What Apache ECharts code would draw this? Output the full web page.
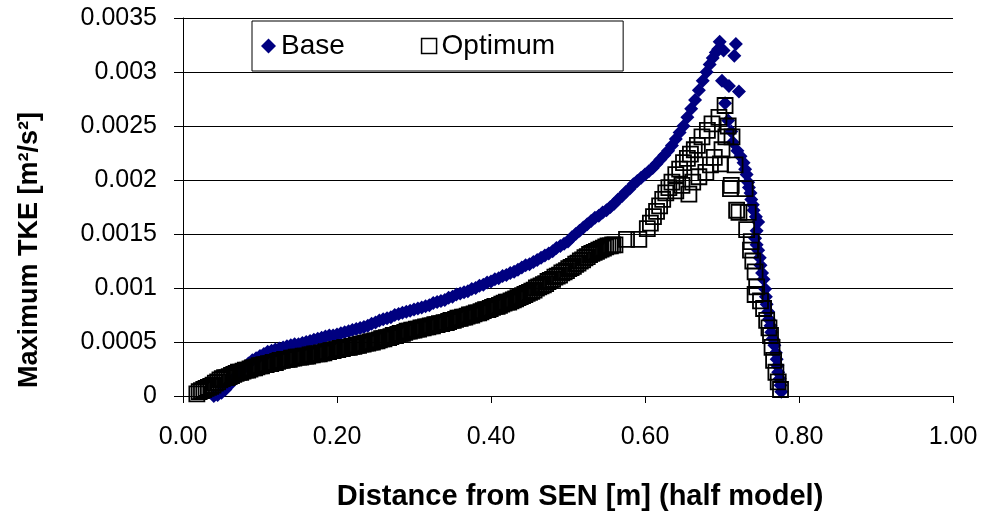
<!DOCTYPE html>
<html>
<head>
<meta charset="utf-8">
<script src="https://cdn.jsdelivr.net/npm/echarts@6/dist/echarts.min.js"></script>
<style>
  html, body { margin: 0; padding: 0; background: #fff; }
  #chart { width: 981px; height: 511px; }
</style>
</head>
<body>
<div id="chart"></div>
<script>
// [distance from SEN (m), max TKE (m2/s2)]
const basePoints = [
  [0.040, 0.00000], [0.045, 0.00001], [0.050, 0.00003], [0.055, 0.00006], [0.060, 0.00010],
  [0.065, 0.00015], [0.070, 0.00019], [0.075, 0.00023], [0.080, 0.00027], [0.085, 0.00030],
  [0.090, 0.00033], [0.095, 0.00035], [0.100, 0.00037], [0.105, 0.00039], [0.110, 0.00041],
  [0.115, 0.00042], [0.120, 0.00043], [0.125, 0.00044], [0.130, 0.00045], [0.135, 0.00046],
  [0.140, 0.00047], [0.145, 0.00048], [0.150, 0.00048], [0.155, 0.00049], [0.160, 0.00050],
  [0.165, 0.00051], [0.170, 0.00052], [0.175, 0.00053], [0.180, 0.00054], [0.185, 0.00055],
  [0.190, 0.00056], [0.195, 0.00056], [0.200, 0.00057], [0.205, 0.00058], [0.210, 0.00059],
  [0.215, 0.00060], [0.220, 0.00061], [0.225, 0.00062], [0.230, 0.00063], [0.235, 0.00064],
  [0.240, 0.00065], [0.245, 0.00067], [0.250, 0.00068], [0.255, 0.00070], [0.260, 0.00071],
  [0.265, 0.00072], [0.270, 0.00073], [0.275, 0.00075], [0.280, 0.00076], [0.285, 0.00077],
  [0.290, 0.00078], [0.295, 0.00079], [0.300, 0.00080], [0.305, 0.00081], [0.310, 0.00082],
  [0.315, 0.00083], [0.320, 0.00084], [0.325, 0.00086], [0.330, 0.00087], [0.335, 0.00088],
  [0.340, 0.00089], [0.345, 0.00091], [0.350, 0.00092], [0.355, 0.00094], [0.360, 0.00095],
  [0.365, 0.00096], [0.370, 0.00097], [0.375, 0.00099], [0.380, 0.00100], [0.385, 0.00102],
  [0.390, 0.00103], [0.395, 0.00105], [0.400, 0.00106], [0.405, 0.00108], [0.410, 0.00109],
  [0.415, 0.00111], [0.420, 0.00112], [0.425, 0.00114], [0.430, 0.00115], [0.435, 0.00117],
  [0.440, 0.00119], [0.445, 0.00121], [0.450, 0.00122], [0.455, 0.00124], [0.460, 0.00126],
  [0.465, 0.00128], [0.470, 0.00130], [0.475, 0.00132], [0.480, 0.00134], [0.485, 0.00137],
  [0.490, 0.00139], [0.495, 0.00141], [0.500, 0.00143], [0.505, 0.00147], [0.510, 0.00150],
  [0.515, 0.00153], [0.520, 0.00156], [0.525, 0.00159], [0.530, 0.00162], [0.535, 0.00165],
  [0.540, 0.00167], [0.545, 0.00170], [0.550, 0.00172], [0.555, 0.00175], [0.560, 0.00178],
  [0.565, 0.00182], [0.570, 0.00185], [0.575, 0.00189], [0.580, 0.00192], [0.585, 0.00196],
  [0.590, 0.00199], [0.595, 0.00202], [0.600, 0.00205], [0.605, 0.00208], [0.610, 0.00211],
  [0.615, 0.00215], [0.620, 0.00219], [0.625, 0.00223], [0.630, 0.00227], [0.635, 0.00232],
  [0.640, 0.00238], [0.645, 0.00244], [0.650, 0.00250], [0.655, 0.00258], [0.660, 0.00266],
  [0.665, 0.00274], [0.670, 0.00283], [0.675, 0.00292], [0.680, 0.00300], [0.684, 0.00307],
  [0.688, 0.00313], [0.692, 0.00318], [0.695, 0.00321], [0.697, 0.00328], [0.702, 0.00320],
  [0.718, 0.00326], [0.716, 0.00315], [0.700, 0.00292], [0.709, 0.00287], [0.722, 0.00282],
  [0.704, 0.00271], [0.708, 0.00255], [0.712, 0.00245], [0.714, 0.00235], [0.720, 0.00227],
  [0.724, 0.00222], [0.728, 0.00216], [0.730, 0.00210], [0.732, 0.00205], [0.734, 0.00198],
  [0.735, 0.00193], [0.737, 0.00188], [0.738, 0.00182], [0.740, 0.00177], [0.741, 0.00172],
  [0.744, 0.00166], [0.747, 0.00161], [0.745, 0.00153], [0.743, 0.00146], [0.745, 0.00140],
  [0.747, 0.00135], [0.749, 0.00128], [0.750, 0.00121], [0.752, 0.00114], [0.754, 0.00108],
  [0.756, 0.00099], [0.757, 0.00092], [0.758, 0.00085], [0.760, 0.00078], [0.761, 0.00071],
  [0.763, 0.00065], [0.764, 0.00059], [0.766, 0.00053], [0.768, 0.00047], [0.770, 0.00040],
  [0.771, 0.00034], [0.772, 0.00028], [0.773, 0.00022], [0.775, 0.00016], [0.776, 0.00010],
  [0.777, 0.00004]
];

const optimumPoints = [
  [0.018, 0.00002], [0.021, 0.00004], [0.024, 0.00005], [0.027, 0.00006], [0.030, 0.00007],
  [0.033, 0.00008], [0.036, 0.00009], [0.039, 0.00010], [0.042, 0.00012], [0.045, 0.00013],
  [0.048, 0.00015], [0.051, 0.00016], [0.054, 0.00017], [0.057, 0.00017], [0.060, 0.00018],
  [0.063, 0.00019], [0.066, 0.00020], [0.069, 0.00021], [0.072, 0.00022], [0.075, 0.00022],
  [0.078, 0.00023], [0.081, 0.00024], [0.084, 0.00024], [0.087, 0.00025], [0.090, 0.00026],
  [0.093, 0.00026], [0.096, 0.00027], [0.099, 0.00028], [0.102, 0.00028], [0.105, 0.00029],
  [0.108, 0.00029], [0.111, 0.00030], [0.114, 0.00030], [0.117, 0.00031], [0.120, 0.00031],
  [0.123, 0.00032], [0.126, 0.00033], [0.129, 0.00033], [0.132, 0.00034], [0.135, 0.00034],
  [0.138, 0.00034], [0.141, 0.00035], [0.144, 0.00035], [0.147, 0.00036], [0.150, 0.00036],
  [0.153, 0.00036], [0.156, 0.00037], [0.159, 0.00037], [0.162, 0.00037], [0.165, 0.00038],
  [0.168, 0.00038], [0.171, 0.00039], [0.174, 0.00039], [0.177, 0.00039], [0.180, 0.00040],
  [0.183, 0.00040], [0.186, 0.00041], [0.189, 0.00041], [0.192, 0.00042], [0.195, 0.00042],
  [0.198, 0.00043], [0.201, 0.00043], [0.204, 0.00044], [0.207, 0.00044], [0.210, 0.00045],
  [0.213, 0.00045], [0.216, 0.00045], [0.219, 0.00046], [0.222, 0.00046], [0.225, 0.00047],
  [0.228, 0.00047], [0.231, 0.00048], [0.234, 0.00048], [0.237, 0.00049], [0.240, 0.00049],
  [0.243, 0.00050], [0.246, 0.00050], [0.249, 0.00051], [0.252, 0.00051], [0.255, 0.00052],
  [0.258, 0.00053], [0.261, 0.00053], [0.264, 0.00054], [0.267, 0.00054], [0.270, 0.00055],
  [0.273, 0.00056], [0.276, 0.00056], [0.279, 0.00057], [0.282, 0.00058], [0.285, 0.00058],
  [0.288, 0.00059], [0.291, 0.00060], [0.294, 0.00060], [0.297, 0.00061], [0.300, 0.00061],
  [0.303, 0.00062], [0.306, 0.00062], [0.309, 0.00063], [0.312, 0.00063], [0.315, 0.00064],
  [0.318, 0.00064], [0.321, 0.00065], [0.324, 0.00065], [0.327, 0.00066], [0.330, 0.00066],
  [0.333, 0.00067], [0.336, 0.00067], [0.339, 0.00068], [0.342, 0.00068], [0.345, 0.00069],
  [0.348, 0.00070], [0.351, 0.00070], [0.354, 0.00071], [0.357, 0.00072], [0.360, 0.00072],
  [0.363, 0.00073], [0.366, 0.00073], [0.369, 0.00074], [0.372, 0.00075], [0.375, 0.00075],
  [0.378, 0.00076], [0.381, 0.00077], [0.384, 0.00077], [0.387, 0.00078], [0.390, 0.00079],
  [0.393, 0.00080], [0.396, 0.00080], [0.399, 0.00081], [0.402, 0.00082], [0.405, 0.00083],
  [0.408, 0.00083], [0.411, 0.00084], [0.414, 0.00085], [0.417, 0.00086], [0.420, 0.00087],
  [0.423, 0.00087], [0.426, 0.00088], [0.429, 0.00089], [0.432, 0.00090], [0.435, 0.00091],
  [0.438, 0.00092], [0.441, 0.00093], [0.444, 0.00094], [0.447, 0.00095], [0.450, 0.00096],
  [0.453, 0.00097], [0.456, 0.00098], [0.459, 0.00100], [0.462, 0.00101], [0.465, 0.00102],
  [0.468, 0.00103], [0.471, 0.00104], [0.474, 0.00106], [0.477, 0.00107], [0.480, 0.00108],
  [0.483, 0.00110], [0.486, 0.00111], [0.489, 0.00112], [0.492, 0.00114], [0.495, 0.00115],
  [0.498, 0.00116], [0.501, 0.00118], [0.504, 0.00119], [0.507, 0.00120], [0.510, 0.00122],
  [0.513, 0.00123], [0.516, 0.00125], [0.519, 0.00126], [0.522, 0.00128], [0.525, 0.00129],
  [0.528, 0.00131], [0.531, 0.00132], [0.534, 0.00133], [0.537, 0.00134], [0.540, 0.00135],
  [0.543, 0.00136], [0.546, 0.00137], [0.549, 0.00138], [0.552, 0.00139], [0.555, 0.00139],
  [0.558, 0.00140], [0.561, 0.00140], [0.576, 0.00145], [0.592, 0.00145], [0.603, 0.00155],
  [0.607, 0.00160], [0.611, 0.00166], [0.615, 0.00171], [0.619, 0.00176], [0.623, 0.00182],
  [0.627, 0.00188], [0.631, 0.00193], [0.635, 0.00198], [0.640, 0.00205], [0.645, 0.00210],
  [0.650, 0.00216], [0.655, 0.00220], [0.659, 0.00224], [0.664, 0.00228], [0.668, 0.00232],
  [0.674, 0.00240], [0.681, 0.00246], [0.687, 0.00252], [0.696, 0.00258], [0.704, 0.00269],
  [0.640, 0.00190], [0.648, 0.00195], [0.657, 0.00187], [0.662, 0.00198], [0.670, 0.00203],
  [0.679, 0.00207], [0.685, 0.00214], [0.690, 0.00221], [0.698, 0.00215], [0.700, 0.00228],
  [0.705, 0.00240], [0.713, 0.00240], [0.708, 0.00250], [0.717, 0.00214], [0.711, 0.00192],
  [0.730, 0.00192], [0.712, 0.00195], [0.719, 0.00172], [0.722, 0.00170], [0.734, 0.00170],
  [0.732, 0.00154], [0.738, 0.00143], [0.737, 0.00135], [0.740, 0.00125], [0.743, 0.00115],
  [0.745, 0.00101], [0.743, 0.00094], [0.750, 0.00088], [0.754, 0.00081], [0.758, 0.00070],
  [0.761, 0.00063], [0.763, 0.00056], [0.765, 0.00045], [0.767, 0.00033], [0.770, 0.00022],
  [0.773, 0.00013], [0.776, 0.00006]
];

const font = 'Liberation Sans, Arial, sans-serif';
const chart = echarts.init(document.getElementById('chart'), null, { renderer: 'canvas' });

const option = {
  animation: false,
  backgroundColor: '#fff',
  textStyle: { fontFamily: font, color: '#000' },
  grid: { left: 183, right: 28, top: 18, bottom: 115, containLabel: false, outerBoundsMode: 'none' },
  legend: {
    left: 252,
    top: 21,
    orient: 'horizontal',
    padding: [11, 68, 11, 9],
    itemGap: 76,
    itemWidth: 15,
    itemHeight: 15,
    backgroundColor: '#fff',
    borderColor: '#000',
    borderWidth: 1,
    textStyle: { fontFamily: font, fontSize: 28, color: '#000' },
    data: [
      { name: 'Base', icon: 'diamond', itemStyle: { color: '#000080' } },
      { name: 'Optimum', icon: 'rect', itemStyle: { color: 'transparent', borderColor: '#000', borderWidth: 1.5 } }
    ]
  },
  xAxis: {
    type: 'value',
    min: 0,
    max: 1,
    interval: 0.2,
    name: 'Distance from SEN [m] (half model)',
    nameLocation: 'middle',
    nameGap: 86,
    nameTextStyle: {
      fontFamily: font, fontSize: 29, fontWeight: 'bold', color: '#000',
      padding: [0, 0, 0, 24]
    },
    axisLine: { lineStyle: { color: '#000', width: 1 } },
    axisTick: { show: true, length: 7, lineStyle: { color: '#000' } },
    axisLabel: {
      margin: 29,
      fontSize: 25,
      color: '#000',
      fontFamily: font,
      formatter: function (v) { return v.toFixed(2); }
    },
    splitLine: { show: false }
  },
  yAxis: {
    type: 'value',
    min: 0,
    max: 0.0035,
    interval: 0.0005,
    name: 'Maximum TKE [m²/s²]',
    nameLocation: 'middle',
    nameRotate: 90,
    nameGap: 140,
    nameTextStyle: {
      fontFamily: font, fontSize: 27, fontWeight: 'bold', color: '#000',
      padding: [0, 86, 0, 0]
    },
    axisLine: { show: true, lineStyle: { color: '#000', width: 1 } },
    axisTick: { show: true, length: 9, lineStyle: { color: '#000' } },
    axisLabel: { margin: 26, fontSize: 25, color: '#000', fontFamily: font },
    splitLine: { show: true, lineStyle: { color: '#000', width: 1 } }
  },
  series: [
    {
      name: 'Base',
      type: 'scatter',
      symbol: 'diamond',
      symbolSize: 14,
      itemStyle: { color: '#000080', opacity: 1 },
      data: basePoints
    },
    {
      name: 'Optimum',
      type: 'scatter',
      symbol: 'rect',
      symbolSize: 15,
      itemStyle: { color: 'transparent', borderColor: '#000', borderWidth: 1.8, opacity: 1 },
      data: optimumPoints
    }
  ]
};

chart.setOption(option);
</script>
</body>
</html>
